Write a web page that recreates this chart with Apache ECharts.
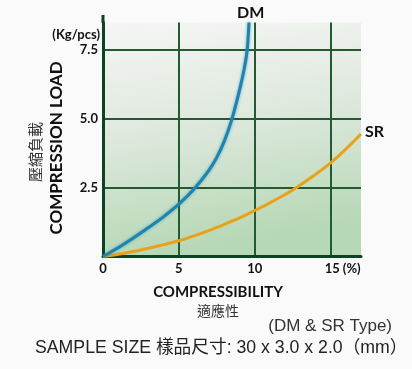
<!DOCTYPE html>
<html>
<head>
<meta charset="utf-8">
<script src="https://cdn.jsdelivr.net/npm/echarts@6/dist/echarts.min.js"></script>
<style>
html,body{margin:0;padding:0;background:#fafafa;}
#chart{width:412px;height:369px;}
</style>
</head>
<body>
<div id="chart"></div>
<script>
// Data
var dmX = [0, 1, 2, 3, 4, 5, 6, 7, 7.5, 8, 8.5, 9, 9.3, 9.5, 9.62];
var dmY = [0, 0.32, 0.67, 1.05, 1.45, 1.9, 2.45, 3.15, 3.6, 4.2, 5.0, 6.05, 6.8, 7.5, 8.5];
var srX = [0, 1, 2, 3, 4, 5, 6, 7, 8, 9, 10, 11, 12, 13, 14, 15, 16, 17];
var srY = [0, 0.08, 0.18, 0.3, 0.43, 0.57, 0.75, 0.95, 1.17, 1.4, 1.67, 1.95, 2.25, 2.6, 2.98, 3.4, 3.9, 4.45];
var xTicks = [0, 5, 10, 15];
var yTicks = [2.5, 5.0, 7.5];
var seriesNames = ['DM', 'SR'];

function pairs(xs, ys) {
  return xs.map(function (x, i) { return [x, ys[i]]; });
}

var chart = echarts.init(document.getElementById('chart'));
var bold = 'Lato';
var endLabelStyle = { show: true, formatter: '{a}', fontFamily: bold, fontWeight: 'bold', fontSize: 16, color: '#111' };
chart.setOption({
  backgroundColor: '#fafafa',
  animation: false,
  grid: {
    left: 103, right: 51, top: 22.5, bottom: 112.5, show: true, borderWidth: 0,
    backgroundColor: {
      type: 'linear', x: 0, y: 0, x2: 0.15, y2: 1,
      colorStops: [{ offset: 0, color: '#f6f6f5' }, { offset: 0.5, color: '#dde8dc' }, { offset: 1, color: '#b7d8b6' }]
    }
  },
  xAxis: {
    type: 'value', min: 0, max: 17, interval: 5,
    axisLine: { show: true, onZero: false, lineStyle: { color: '#0d4323', width: 3 } },
    axisTick: { show: false },
    splitLine: { show: true, showMaxLine: false, lineStyle: { color: '#215a33', width: 2 } },
    axisLabel: {
      margin: 6, color: '#111', fontFamily: bold, fontWeight: 'bold', fontSize: 13,
      showMaxLabel: false,
      formatter: function (v) {
        if (xTicks.indexOf(v) < 0) return '';
        if (v === 15) return '{p|' + v + ' (%)}';
        return String(v);
      },
      rich: { p: { fontFamily: bold, fontWeight: 'bold', fontSize: 13, color: '#111', padding: [0, 0, 0, 24] } }
    }
  },
  yAxis: {
    type: 'value', min: 0, max: 8.5, interval: 2.5,
    axisLine: { show: true, onZero: false, lineStyle: { color: '#0d4323', width: 3 } },
    axisTick: { show: false },
    splitLine: { show: true, showMaxLine: false, lineStyle: { color: '#215a33', width: 2 } },
    axisLabel: {
      margin: 5, color: '#111', fontFamily: bold, fontWeight: 'bold', fontSize: 13,
      showMaxLabel: false,
      formatter: function (v) {
        for (var i = 0; i < yTicks.length; i++) if (Math.abs(yTicks[i] - v) < 1e-6) return v.toFixed(1);
        return '';
      }
    }
  },
  series: [
    {
      name: seriesNames[0], type: 'line', smooth: 0.3, showSymbol: false, clip: false,
      data: pairs(dmX, dmY),
      lineStyle: { color: '#1d84b0', width: 3, shadowBlur: 3, shadowColor: 'rgba(29,132,176,0.7)' },
      endLabel: Object.assign({}, endLabelStyle, { offset: [-20, -10] }),
      z: 5
    },
    {
      name: seriesNames[1], type: 'line', smooth: 0.3, showSymbol: false, clip: false,
      data: pairs(srX, srY),
      lineStyle: { color: '#eaa11a', width: 3 },
      endLabel: Object.assign({}, endLabelStyle, { distance: 4, offset: [0, -2] }),
      z: 4
    }
  ],
  graphic: [
    { type: 'rect', shape: { x: 101.5, y: 15, width: 3, height: 8 }, style: { fill: '#0d4323' } },
    { type: 'text', x: 100, y: 35, style: { text: '(Kg/pcs)', align: 'right', verticalAlign: 'middle', font: 'bold 13px Lato', fill: '#111' } },
    { type: 'text', x: 57, y: 148, rotation: Math.PI / 2, style: { text: 'COMPRESSION LOAD', align: 'center', verticalAlign: 'middle', font: 'bold 17px Lato', fill: '#111' } },
    { type: 'text', x: 35, y: 152, rotation: Math.PI / 2, style: { text: '壓縮負載', align: 'center', verticalAlign: 'middle', font: '15px "Noto Sans CJK TC"', fill: '#333' } },
    { type: 'text', x: 218, y: 292, style: { text: 'COMPRESSIBILITY', align: 'center', verticalAlign: 'middle', font: 'bold 15px Lato', fill: '#111' } },
    { type: 'text', x: 218, y: 311, style: { text: '適應性', align: 'center', verticalAlign: 'middle', font: '14px "Noto Sans CJK TC"', fill: '#333' } },
    { type: 'text', x: 392, y: 326, style: { text: '(DM & SR Type)', align: 'right', verticalAlign: 'middle', font: '17px "Liberation Sans"', fill: '#333' } },
    { type: 'text', x: 35, y: 348, style: { text: 'SAMPLE SIZE 樣品尺寸: 30 x 3.0 x 2.0（mm）', align: 'left', verticalAlign: 'middle', font: '17.7px "Liberation Sans", "Noto Sans CJK TC"', fill: '#222' } }
  ]
});
</script>
</body>
</html>
